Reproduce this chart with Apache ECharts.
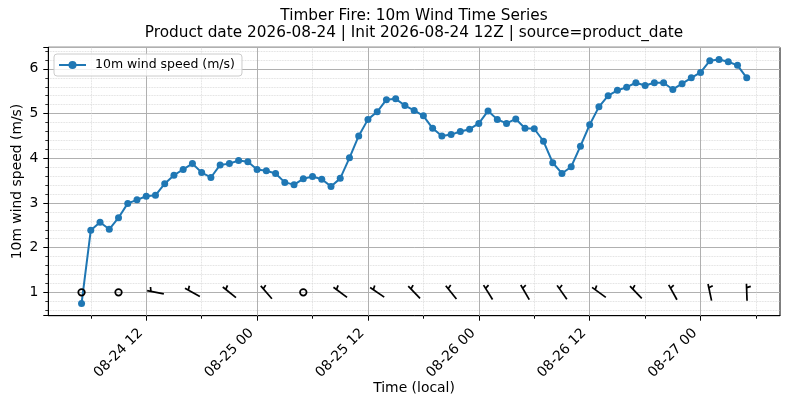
<!DOCTYPE html>
<html>
<head>
<meta charset="utf-8">
<script src="https://cdn.jsdelivr.net/npm/echarts@6/dist/echarts.min.js"></script>
<style>
html, body { margin: 0; padding: 0; background: #fff; }
#chart { width: 790px; height: 409px; }
</style>
</head>
<body>
<div id="chart"></div>
<script>
var HOUR = 3600 * 1000;
var FONT = 'DejaVu Sans';

// hourly samples, first one at 08-24 05:00 local
var startTime = '2026-08-24 05:00';
var stepHours = 1;
var windSpeed = [0.75, 2.39, 2.57, 2.41, 2.67, 2.99, 3.07, 3.15, 3.17, 3.43,
    3.62, 3.75, 3.88, 3.68, 3.57, 3.85, 3.88, 3.95, 3.92, 3.75,
    3.72, 3.66, 3.46, 3.41, 3.54, 3.59, 3.53, 3.37, 3.55, 4.01,
    4.50, 4.87, 5.04, 5.31, 5.33, 5.18, 5.07, 4.95, 4.67, 4.50,
    4.53, 4.60, 4.65, 4.78, 5.06, 4.87, 4.78, 4.88, 4.67, 4.66,
    4.38, 3.90, 3.66, 3.81, 4.27, 4.75, 5.15, 5.40, 5.52, 5.59,
    5.69, 5.63, 5.69, 5.69, 5.54, 5.67, 5.80, 5.92, 6.18, 6.21,
    6.16, 6.08, 5.80];

// wind barbs every 4 h, direction the wind blows from (deg), null = calm
var barbStepHours = 4;
var barbLevel = 1;
var barbDir = [null, null, 281, 299, 309, 319, null, 307, 304, 316,
    321, 328, 330, 325, 306, 316, 331, 348, 358];

// tick labels
var majorTicks = ['2026-08-24 12:00', '2026-08-25 00:00', '2026-08-25 12:00',
    '2026-08-26 00:00', '2026-08-26 12:00', '2026-08-27 00:00'];
var minorTicks = ['2026-08-24 06:00', '2026-08-24 18:00', '2026-08-25 06:00',
    '2026-08-25 18:00', '2026-08-26 06:00', '2026-08-26 18:00', '2026-08-27 06:00'];

function toMs(s) {
    var p = s.split(/[- :]/).map(Number);
    return Date.UTC(p[0], p[1] - 1, p[2], p[3], p[4]);
}
function pad(n) { return (n < 10 ? '0' : '') + n; }
function fmtTick(v) {
    var d = new Date(v);
    return pad(d.getUTCMonth() + 1) + '-' + pad(d.getUTCDate()) + ' ' + pad(d.getUTCHours());
}

var t0 = toMs(startTime);
var speedData = windSpeed.map(function (v, i) { return [t0 + i * stepHours * HOUR, v]; });
var barbData = barbDir.map(function (d, k) {
    return [t0 + k * barbStepHours * HOUR, barbLevel, d == null ? '-' : d];
});
var majorMs = majorTicks.map(toMs);
var minorMs = minorTicks.map(toMs);

// 5% margins like matplotlib
var tEnd = speedData[speedData.length - 1][0];
var xPad = (tEnd - t0) * 0.05;
var yLo = 0.75, yHi = 6.21;
var yPad = (yHi - yLo) * 0.05;

var BARB_LEN = 17;

function renderBarb(params, api) {
    var p = api.coord([api.value(0), api.value(1)]);
    var dir = api.value(2);
    var style = { stroke: '#000', lineWidth: 1.7, fill: null };
    if (dir == null || isNaN(dir)) {
        return { type: 'circle', shape: { cx: p[0], cy: p[1], r: 3.3 }, style: style };
    }
    var a = (90 - dir) * Math.PI / 180;
    var ux = Math.cos(a), uy = -Math.sin(a);   // staff, toward the feathers
    var px = Math.sin(a), py = Math.cos(a);    // clockwise side
    var h = BARB_LEN / 2;
    var tip = [p[0] + h * ux, p[1] + h * uy];
    var tail = [p[0] - h * ux, p[1] - h * uy];
    var off = h - 0.225 * BARB_LEN;
    var b = [p[0] + off * ux, p[1] + off * uy];
    var f = [b[0] + 0.25 * BARB_LEN * px + 0.07 * BARB_LEN * ux,
             b[1] + 0.25 * BARB_LEN * py + 0.07 * BARB_LEN * uy];
    return {
        type: 'group',
        children: [
            { type: 'polyline', shape: { points: [tail, tip] }, style: style },
            { type: 'polyline', shape: { points: [b, f] }, style: style }
        ]
    };
}

var chart = echarts.init(document.getElementById('chart'), null, { renderer: 'canvas' });

var option = {
    animation: false,
    backgroundColor: '#fff',
    textStyle: { fontFamily: FONT },
    title: {
        text: 'Timber Fire: 10m Wind Time Series\nProduct date 2026-08-24 | Init 2026-08-24 12Z | source=product_date',
        left: 414,
        top: 7.5,
        padding: 0,
        textAlign: 'center',
        textStyle: { fontFamily: FONT, fontSize: 15.3, fontWeight: 'normal', color: '#000', lineHeight: 17.3 }
    },
    legend: {
        data: ['10m wind speed (m/s)'],
        left: 54,
        top: 54,
        orient: 'vertical',
        padding: [4, 7, 4, 4],
        itemWidth: 27,
        itemHeight: 10,
        borderColor: '#cccccc',
        borderWidth: 1,
        borderRadius: 3,
        backgroundColor: 'rgba(255,255,255,0.8)',
        textStyle: { fontFamily: FONT, fontSize: 12.5, color: '#000', lineHeight: 14, padding: [0, 0, 0, 4] }
    },
    grid: {
        left: 48.3,
        right: 10,
        top: 47.3,
        bottom: 93.3,
        show: true,
        borderColor: '#000',
        borderWidth: 1,
        backgroundColor: 'transparent',
        outerBoundsMode: 'none'
    },
    graphic: [
        {
            type: 'text', x: 414, y: 388,
            style: { text: 'Time (local)', font: '13.9px "DejaVu Sans"', fill: '#000', align: 'center', verticalAlign: 'middle' }
        },
        {
            type: 'text', x: 17, y: 181.5, rotation: Math.PI / 2,
            style: { text: '10m wind speed (m/s)', font: '13.9px "DejaVu Sans"', fill: '#000', align: 'center', verticalAlign: 'middle' }
        }
    ],
    xAxis: [
        {
            type: 'value',
            position: 'bottom',
            min: t0 - xPad,
            max: tEnd + xPad,
            axisLine: { show: true, lineStyle: { color: '#000', width: 1 } },
            axisTick: { show: true, customValues: majorMs, length: 5, lineStyle: { color: '#000', width: 1 } },
            axisLabel: {
                customValues: majorMs,
                formatter: fmtTick,
                rotate: 45,
                margin: 9.7,
                padding: [0, 8, 0, 0],
                fontFamily: FONT,
                fontSize: 13.9,
                color: '#000'
            },
            splitLine: { show: false },
            minorTick: { show: false }
        },
        {
            type: 'value',
            position: 'bottom',
            min: t0 - xPad,
            max: tEnd + xPad,
            axisLine: { show: false },
            axisTick: { show: true, customValues: minorMs, length: 3, lineStyle: { color: '#000', width: 1 } },
            axisLabel: { show: false },
            splitLine: { show: false }
        }
    ],
    yAxis: {
        type: 'value',
        min: yLo - yPad,
        max: yHi + yPad,
        splitNumber: 5,
        axisLine: { show: true, lineStyle: { color: '#000', width: 1 } },
        axisTick: { show: true, length: 5, lineStyle: { color: '#000', width: 1 } },
        minorTick: { show: true, splitNumber: 5, length: 3, lineStyle: { color: '#000', width: 0.8 } },
        axisLabel: {
            margin: 10,
            fontFamily: FONT,
            fontSize: 13.9,
            color: '#000',
            showMinLabel: false,
            showMaxLabel: false,
            formatter: function (v) { return String(Math.round(v)); }
        },
        splitLine: { show: true, lineStyle: { color: '#b0b0b0', width: 1 } },
        minorSplitLine: { show: true, lineStyle: { color: '#d4d4d4', width: 0.8, type: 'dotted' } }
    },
    series: [
        {
            // vertical grid lines at the tick times
            type: 'line',
            data: [],
            silent: true,
            z: 1,
            markLine: {
                silent: true,
                z: 1,
                animation: false,
                symbol: ['none', 'none'],
                label: { show: false },
                emphasis: { disabled: true },
                lineStyle: { color: '#b0b0b0', width: 1, type: 'solid' },
                data: majorMs.map(function (t) { return { xAxis: t }; })
            }
        },
        {
            type: 'line',
            data: [],
            silent: true,
            z: 1,
            markLine: {
                silent: true,
                z: 1,
                animation: false,
                symbol: ['none', 'none'],
                label: { show: false },
                emphasis: { disabled: true },
                lineStyle: { color: '#d4d4d4', width: 0.8, type: 'dotted' },
                data: minorMs.map(function (t) { return { xAxis: t }; })
            }
        },
        {
            name: '10m wind speed (m/s)',
            type: 'line',
            data: speedData,
            z: 3,
            symbol: 'circle',
            symbolSize: 7,
            showSymbol: true,
            showAllSymbol: true,
            color: '#1f77b4',
            lineStyle: { color: '#1f77b4', width: 2 },
            itemStyle: { color: '#1f77b4' }
        },
        {
            name: 'barbs',
            type: 'custom',
            data: barbData,
            z: 4,
            silent: true,
            renderItem: renderBarb
        }
    ]
};

chart.setOption(option);
</script>
</body>
</html>
